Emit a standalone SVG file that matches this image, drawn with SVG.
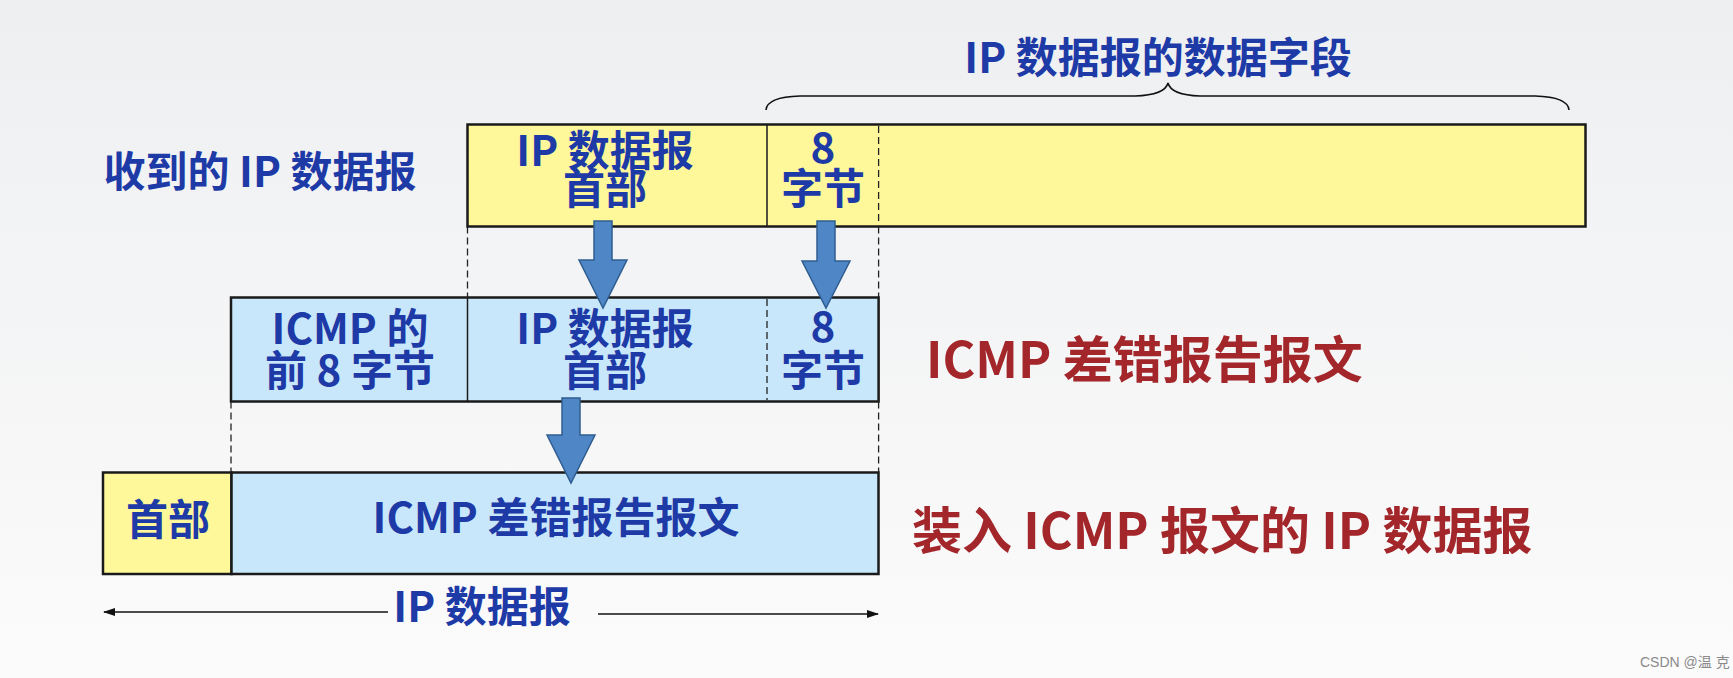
<svg xmlns="http://www.w3.org/2000/svg" width="1733" height="678" viewBox="0 0 1733 678">
<defs>
<linearGradient id="bg" x1="0" y1="0" x2="0" y2="1">
<stop offset="0" stop-color="#eeeff1"/>
<stop offset="1" stop-color="#fbfbfb"/>
</linearGradient>
<marker id="ah" viewBox="0 0 12 8" refX="11" refY="4" markerWidth="12" markerHeight="8" markerUnits="userSpaceOnUse" orient="auto">
<path d="M0,0 L12,4 L0,8 Z" fill="#111"/>
</marker>
</defs>
<style>
.box{stroke:#1a1a1a;stroke-width:2.5}
.y{fill:#fef89a}
.b{fill:#c9e7fb}
.div{stroke:#1a1a1a;stroke-width:1.5}
.dash{stroke:#222;stroke-width:1.3;stroke-dasharray:7 4;fill:none}
.t{font-family:"Noto Sans CJK SC","Noto Sans",sans-serif;font-weight:bold;font-size:42px;fill:#1d3aa6;text-anchor:middle}
.r{font-family:"Noto Sans CJK SC","Noto Sans",sans-serif;font-weight:bold;font-size:50px;fill:#a3262a}
.arr{fill:#4f86c6;stroke:#2f5d90;stroke-width:1.5}
.ln{stroke:#111;stroke-width:1.6;fill:none}
</style>
<rect x="0" y="0" width="1733" height="678" fill="url(#bg)"/>

<g id="title">
<text class="t" x="1158" y="73">IP 数据报的数据字段</text>
</g>
<g id="label-received">
<text class="t" x="260" y="187">收到的 IP 数据报</text>
</g>

<g id="received-datagram">
<rect class="box y" x="467.5" y="124.5" width="1118" height="102"/>
<line class="div" x1="767" y1="124.5" x2="767" y2="226.5"/>
<line class="dash" x1="878.6" y1="126" x2="878.6" y2="225"/>
<text class="t" x="605" y="166">IP 数据报</text>
<text class="t" x="605" y="204">首部</text>
<text class="t" x="823" y="163">8</text>
<text class="t" x="823" y="204">字节</text>
</g>

<g id="icmp-message">
<rect class="box b" x="231" y="297.5" width="647.6" height="104"/>
<line class="div" x1="467.5" y1="297.5" x2="467.5" y2="401.5"/>
<line class="dash" x1="767" y1="299" x2="767" y2="400"/>
<text class="t" x="350" y="344">ICMP 的</text>
<text class="t" x="350" y="386">前 8 字节</text>
<text class="t" x="605" y="344">IP 数据报</text>
<text class="t" x="605" y="386">首部</text>
<text class="t" x="823" y="342">8</text>
<text class="t" x="823" y="386">字节</text>
</g>
<g id="label-icmp">
<text class="r" x="926" y="378">ICMP 差错报告报文</text>
</g>

<g id="ip-datagram">
<rect class="box y" x="103" y="472.5" width="128.5" height="101.5"/>
<rect class="box b" x="231.5" y="472.5" width="647" height="101.5"/>
<text class="t" x="168" y="535">首部</text>
<text class="t" x="556" y="533">ICMP 差错报告报文</text>
</g>
<g id="label-ip">
<text class="r" x="912" y="549">装入 ICMP 报文的 IP 数据报</text>
</g>
<g id="label-ip-datagram">
<text class="t" x="482" y="622">IP 数据报</text>
</g>

<g id="connectors">
<line class="dash" x1="467.5" y1="226.5" x2="467.5" y2="297.5"/>
<line class="dash" x1="878.6" y1="226.5" x2="878.6" y2="297.5"/>
<line class="dash" x1="231" y1="401.5" x2="231" y2="472.5"/>
<line class="dash" x1="878.6" y1="401.5" x2="878.6" y2="472.5"/>
<path class="ln" stroke-width="2.8" d="M766,110 Q767,97 800,96 L1135,96 Q1165,95 1168,83 Q1171,95 1200,96 L1535,96 Q1568,97 1569,110"/>
<polygon class="arr" points="594,221 612,221 612,260 627,260 603,308 579,260 594,260"/>
<polygon class="arr" points="817,221 835,221 835,261 850,261 826,308 802,261 817,261"/>
<polygon class="arr" points="562,398 580,398 580,435 595,435 571,483 547,435 562,435"/>
<line class="ln" x1="388" y1="612" x2="104" y2="612" marker-end="url(#ah)"/>
<line class="ln" x1="598" y1="614" x2="878" y2="614" marker-end="url(#ah)"/>
</g>

<g id="watermark">
<text x="1640" y="667" font-family="'Liberation Sans','Noto Sans CJK SC',sans-serif" font-size="14" fill="#8a8a8a">CSDN @温 克</text>
</g>
</svg>
